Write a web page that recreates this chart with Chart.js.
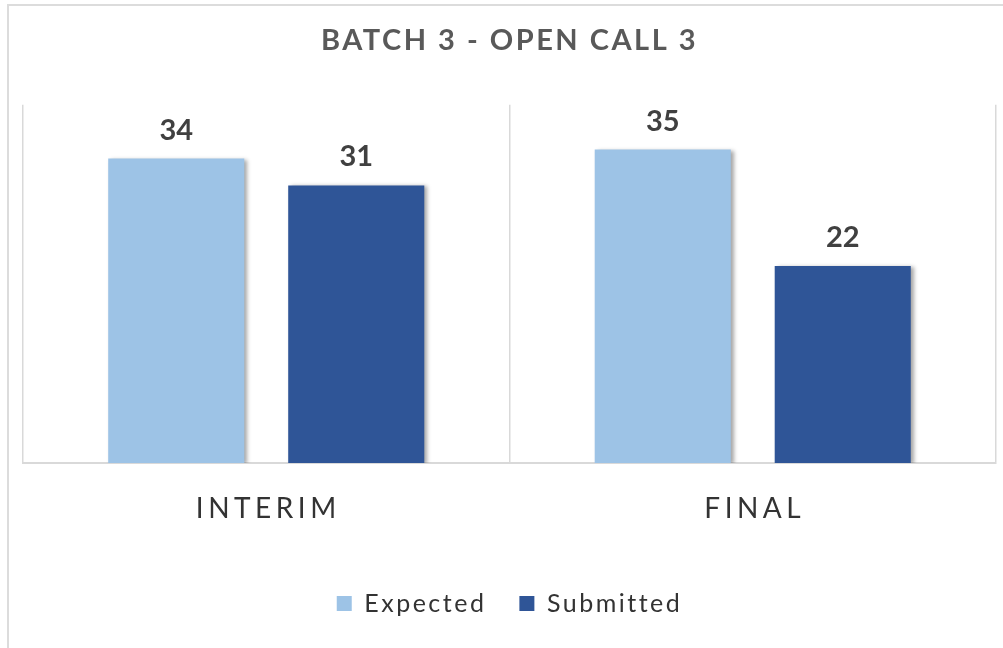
<!DOCTYPE html>
<html>
<head>
<meta charset="utf-8">
<script src="https://cdn.jsdelivr.net/npm/chart.js@4.4.1/dist/chart.umd.min.js"></script>
<style>
  html, body { margin: 0; padding: 0; background: #fff; }
  #wrap { position: relative; width: 1003px; height: 648px; overflow: hidden; }
  #frame { position: absolute; left: 7px; top: 4px; width: 1010px; height: 660px; border: 2px solid #dcdcdc; box-sizing: border-box; }
  canvas { position: absolute; left: 0; top: 0; }
</style>
</head>
<body>
<div id="wrap">
  <div id="frame"></div>
  <canvas id="chart" width="1003" height="648"></canvas>
</div>
<script>
// ── data ────────────────────────────────────────────────────
const chartTitle = 'BATCH 3 - OPEN CALL 3';
const categories = ['INTERIM', 'FINAL'];
const seriesNames = ['Expected', 'Submitted'];
const expected  = [34, 35];
const submitted = [31, 22];
const colors = ['#9dc3e6', '#2f5597'];

// wider text tracking for title + legend (Calibri-like look)
const spacingPlugin = {
  id: 'tracking',
  beforeLayout(chart) { chart.ctx.letterSpacing = '2.5px'; },
  beforeDraw(chart)   { chart.ctx.letterSpacing = '2.5px'; },
};

// bar shadow (Office-style soft drop shadow to the right)
const shadowPlugin = {
  id: 'barShadow',
  beforeDatasetsDraw(chart) {
    const ctx = chart.ctx;
    ctx.save();
    ctx.shadowColor = 'rgba(0,0,0,0.35)';
    ctx.shadowBlur = 4;
    ctx.shadowOffsetX = 3;
    ctx.shadowOffsetY = 1;
  },
  afterDatasetsDraw(chart) {
    chart.ctx.restore();
  }
};

// value labels above bars + spaced category labels
const labelPlugin = {
  id: 'labels',
  afterDraw(chart) {
    const ctx = chart.ctx;
    ctx.save();
    ctx.letterSpacing = '0px';
    ctx.textAlign = 'center';
    ctx.textBaseline = 'alphabetic';
    ctx.fillStyle = '#404040';
    ctx.font = 'bold 29px Lato';
    chart.data.datasets.forEach((ds, di) => {
      chart.getDatasetMeta(di).data.forEach((bar, i) => {
        ctx.fillText(String(ds.data[i]), bar.x, bar.y - 19);
      });
    });

    const xs = chart.scales.x;
    ctx.font = '28px Lato';
    ctx.fillStyle = '#333333';
    ctx.letterSpacing = '4.5px';
    categories.forEach((c, i) => {
      ctx.fillText(c, xs.getPixelForValue(i) + 2, 518);
    });
    ctx.restore();
  }
};

new Chart(document.getElementById('chart'), {
  type: 'bar',
  data: {
    labels: categories,
    datasets: [
      { label: seriesNames[0], data: expected,  backgroundColor: colors[0] },
      { label: seriesNames[1], data: submitted, backgroundColor: colors[1] },
    ],
  },
  options: {
    responsive: false,
    animation: false,
    events: [],
    categoryPercentage: 0.74,
    barPercentage: 0.756,
    layout: { padding: { left: 23, right: 7, top: 0, bottom: 22 } },
    plugins: {
      title: {
        display: true,
        text: chartTitle,
        color: '#595959',
        font: { family: 'Lato', size: 29, weight: 'bold' },
        padding: { top: 23, bottom: 47 },
      },
      legend: {
        position: 'bottom',
        labels: {
          color: '#333333',
          font: { family: 'Lato', size: 25 },
          boxWidth: 15,
          boxHeight: 15,
          padding: 33,
        },
      },
      tooltip: { enabled: false },
    },
    scales: {
      x: {
        grid: { display: true, color: '#d9d9d9', lineWidth: 1.5, drawTicks: false, offset: true },
        border: { display: true, color: '#d9d9d9', width: 2 },
        ticks: { display: false },
        afterFit(scale) { scale.height = 95; },
      },
      y: {
        display: false,
        min: 0,
        max: 40,
      },
    },
  },
  plugins: [spacingPlugin, shadowPlugin, labelPlugin],
});
</script>
</body>
</html>
